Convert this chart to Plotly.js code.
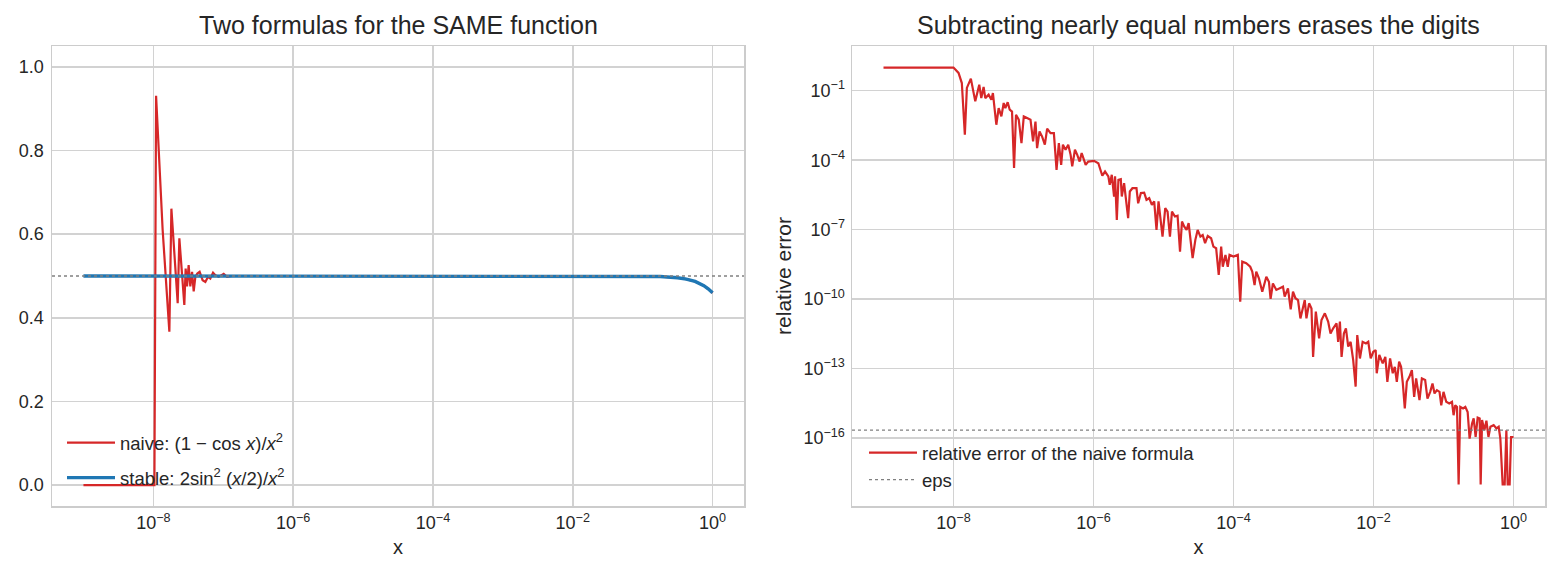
<!DOCTYPE html>
<html>
<head>
<meta charset="utf-8">
<script src="https://cdn.plot.ly/plotly-3.0.1.min.js"></script>
<style>
  html, body { margin: 0; padding: 0; background: #ffffff; }
  #chart { width: 1560px; height: 578px; }
</style>
</head>
<body>
<div id="chart"></div>
<script>
// ---- left panel: the two formulas, x given as powers of ten ----
const naiveExp = [-9, -7.985, -7.961, -7.867, -7.771, -7.742, -7.652, -7.628, -7.557, -7.538,
  -7.518, -7.495, -7.471, -7.446, -7.423, -7.399, -7.371, -7.338, -7.295, -7.256,
  -7.217, -7.185, -7.146, -7.113, -7.066, -6.994, -6.946, -6.874, -6, -5,
  -4, -3, -2, -1.5, -1, -0.75, -0.5, -0.375, -0.25, -0.125, -0.0625, 0];
const naiveVal = [0, 0, 0.931, 0.61, 0.367, 0.661, 0.435, 0.590, 0.431, 0.518,
  0.475, 0.526, 0.475, 0.510, 0.463, 0.498, 0.506, 0.510, 0.490, 0.486,
  0.498, 0.494, 0.508, 0.502, 0.498, 0.505, 0.498, 0.500, 0.5, 0.5,
  0.5, 0.5, 0.5, 0.49996, 0.49958, 0.49868, 0.49585, 0.49263, 0.48697, 0.4770, 0.4695, 0.4597];

const stableExp = [-9, -8, -7, -6, -5, -4, -3, -2, -1.5, -1, -0.75, -0.5, -0.375, -0.25, -0.125, -0.0625, 0];
const stableVal = [0.5, 0.5, 0.5, 0.5, 0.5, 0.5, 0.5, 0.5, 0.49996, 0.49958, 0.49868, 0.49585, 0.49263, 0.48697, 0.4770, 0.4695, 0.4597];

const limitValue = 0.5;

// ---- right panel: relative error of the naive formula (powers of ten) ----
const errExp = [-9, -8.0, -7.928, -7.881, -7.838, -7.809, -7.752, -7.689, -7.632, -7.603,
  -7.570, -7.546, -7.498, -7.459, -7.437, -7.388, -7.355, -7.316, -7.283, -7.259,
  -7.226, -7.197, -7.164, -7.135, -7.107, -7.068, -7.029, -6.996, -6.949, -6.900,
  -6.863, -6.829, -6.806, -6.771, -6.734, -6.695, -6.662, -6.614, -6.566, -6.528,
  -6.495, -6.462, -6.437, -6.399, -6.361, -6.327, -6.304, -6.265, -6.232, -6.198,
  -6.169, -6.136, -6.112, -6.075, -5.993, -5.931, -5.874, -5.835, -5.788, -5.768,
  -5.739, -5.706, -5.692, -5.667, -5.644, -5.610, -5.596, -5.563, -5.530, -5.505,
  -5.481, -5.444, -5.386, -5.362, -5.323, -5.276, -5.243, -5.204, -5.166, -5.133,
  -5.100, -5.071, -5.047, -5.014, -4.975, -4.942, -4.908, -4.879, -4.836, -4.799,
  -4.764, -4.736, -4.703, -4.670, -4.641, -4.584, -4.545, -4.512, -4.473, -4.440,
  -4.406, -4.368, -4.320, -4.287, -4.248, -4.211, -4.176, -4.153, -4.115, -4.082,
  -4.057, -4.000, -3.938, -3.904, -3.875, -3.818, -3.761, -3.732, -3.699, -3.675,
  -3.637, -3.589, -3.531, -3.494, -3.470, -3.437, -3.388, -3.341, -3.293, -3.269,
  -3.222, -3.183, -3.150, -3.115, -3.078, -3.044, -3.015, -2.982, -2.958, -2.920,
  -2.886, -2.863, -2.824, -2.777, -2.743, -2.695, -2.648, -2.614, -2.576, -2.528,
  -2.505, -2.480, -2.456, -2.423, -2.394, -2.361, -2.327, -2.290, -2.255, -2.232,
  -2.194, -2.155, -2.108, -2.075, -2.040, -2.003, -1.969, -1.954, -1.917, -1.868,
  -1.831, -1.802, -1.763, -1.725, -1.696, -1.667, -1.634, -1.606, -1.581, -1.553,
  -1.524, -1.487, -1.452, -1.419, -1.391, -1.343, -1.309, -1.262, -1.229, -1.190,
  -1.157, -1.128, -1.094, -1.057, -1.032, -1.000, -0.961, -0.918, -0.879, -0.856,
  -0.832, -0.807, -0.784, -0.760, -0.721, -0.688, -0.655, -0.627, -0.592, -0.569,
  -0.541, -0.512, -0.483, -0.469, -0.449, -0.416, -0.387, -0.358, -0.330, -0.283,
  -0.244, -0.212, -0.188, -0.155, -0.126, -0.102, -0.083, -0.055, -0.035, 0.0];
const errLog = [0.0, 0.0, -0.23, -0.67, -2.90, -0.88, -0.48, -1.46, -0.74, -1.32,
  -0.84, -1.32, -1.17, -1.39, -1.10, -2.47, -1.75, -2.11, -1.53, -1.75,
  -1.50, -1.82, -1.90, -4.34, -2.04, -2.25, -3.26, -2.11, -2.18, -2.25,
  -3.19, -2.33, -3.48, -2.76, -2.98, -3.33, -2.64, -2.83, -2.83, -4.42,
  -3.26, -4.20, -3.33, -3.55, -3.33, -3.77, -4.27, -3.55, -3.77, -4.06,
  -3.69, -3.98, -4.20, -4.06, -4.03, -4.13, -4.67, -4.49, -4.70, -5.06,
  -4.63, -5.57, -4.70, -6.58, -4.85, -4.82, -5.57, -4.99, -5.78, -6.50,
  -5.35, -5.21, -5.21, -5.86, -5.42, -5.40, -5.71, -5.64, -5.93, -5.78,
  -7.01, -5.78, -6.43, -7.30, -6.07, -6.22, -7.30, -6.22, -6.43, -6.40,
  -7.95, -6.65, -6.87, -7.01, -6.72, -8.23, -7.44, -7.01, -7.30, -7.23,
  -7.58, -7.27, -7.37, -7.73, -7.80, -8.95, -7.73, -8.60, -8.09, -8.60,
  -8.09, -8.16, -8.09, -10.11, -8.38, -8.45, -8.60, -8.81, -9.39, -8.81,
  -9.10, -9.68, -9.03, -9.25, -9.99, -9.32, -9.60, -9.53, -9.46, -9.89,
  -9.53, -10.44, -9.68, -9.96, -10.04, -10.83, -10.40, -10.04, -10.83, -10.18,
  -10.40, -12.49, -10.54, -11.69, -10.90, -10.61, -10.97, -11.48, -11.26, -11.04,
  -11.84, -10.97, -12.49, -11.48, -11.26, -12.05, -11.84, -12.63, -13.78, -11.55,
  -12.56, -11.84, -11.91, -11.84, -12.56, -12.27, -12.20, -13.20, -12.41, -12.77,
  -12.49, -13.57, -12.56, -13.20, -12.92, -13.57, -12.70, -12.92, -13.64, -14.72,
  -13.57, -13.35, -13.06, -14.22, -13.42, -14.36, -13.42, -13.49, -14.29, -14.00,
  -13.64, -14.07, -13.93, -14.00, -14.58, -14.00, -14.43, -14.50, -14.43, -15.01,
  -14.58, -14.65, -18.00, -14.65, -14.72, -14.65, -14.87, -16.02, -15.37, -15.15,
  -15.95, -15.11, -15.15, -18.00, -15.22, -15.66, -15.25, -15.95, -15.51, -15.44,
  -15.58, -15.51, -16.02, -18.00, -18.00, -15.66, -18.00, -18.00, -15.95, -15.95];

const machineEps = 2.220446049250313e-16;

// axis extents and tick positions, in powers of ten
const xRangeExp = [-9.45, 0.45];
const errRangeExp = [-18.93, 0.93];
const xTickExp = [-8, -6, -4, -2, 0];
const errTickExp = [-16, -13, -10, -7, -4, -1];

const pow10 = e => Math.pow(10, e);
const powLabel = e => '10<sup>' + (e < 0 ? '\u2212' + (-e) : String(e)) + '</sup>';

const RED = '#d62728';
const BLUE = '#1f77b4';
const GREY = '#808080';
const INK = '#262626';
const FRAME = '#cccccc';
const GRID = '#d2d2d2';
const FONT = 'Liberation Sans, Arial, sans-serif';

const traces = [
  {
    x: naiveExp.map(pow10), y: naiveVal,
    type: 'scatter', mode: 'lines',
    line: {color: RED, width: 2.2},
    name: 'naive: (1 − cos <i>x</i>)/<i>x</i><sup>2</sup>',
    legendgroup: 'naive',
    xaxis: 'x', yaxis: 'y', legend: 'legend'
  },
  {
    x: stableExp.map(pow10), y: stableVal,
    type: 'scatter', mode: 'lines',
    line: {color: BLUE, width: 3.4},
    name: 'stable: 2sin<sup>2</sup> (<i>x</i>/2)/<i>x</i><sup>2</sup>',
    legendgroup: 'stable',
    xaxis: 'x', yaxis: 'y', legend: 'legend'
  },
  {
    x: xRangeExp.map(pow10), y: [limitValue, limitValue],
    type: 'scatter', mode: 'lines',
    line: {color: GREY, width: 1.3, dash: 'dot'},
    showlegend: false, hoverinfo: 'skip',
    xaxis: 'x', yaxis: 'y'
  },
  {
    x: errExp.map(pow10), y: errLog.map(pow10),
    type: 'scatter', mode: 'lines',
    line: {color: RED, width: 2.2},
    name: 'relative error of the naive formula',
    xaxis: 'x2', yaxis: 'y2', legend: 'legend2'
  },
  {
    x: xRangeExp.map(pow10), y: [machineEps, machineEps],
    type: 'scatter', mode: 'lines',
    line: {color: GREY, width: 1.3, dash: 'dot'},
    name: 'eps',
    xaxis: 'x2', yaxis: 'y2', legend: 'legend2'
  }
];

const W = 1560, H = 578;
const px = v => v / W;
const py = v => 1 - v / H;

const axisCommon = {
  showline: true, mirror: true, linecolor: FRAME, linewidth: 1.5,
  showgrid: true, gridcolor: GRID, gridwidth: 1.5,
  zeroline: false, ticks: '',
  tickfont: {family: FONT, size: 18, color: INK}
};

const logX = {
  ...axisCommon,
  type: 'log', range: xRangeExp,
  tickmode: 'array',
  tickvals: xTickExp.map(pow10),
  ticktext: xTickExp.map(powLabel),
  title: {text: 'x', font: {family: FONT, size: 20, color: INK}, standoff: 8}
};

const legendCommon = {
  xanchor: 'left', yanchor: 'bottom',
  bgcolor: 'rgba(0,0,0,0)', borderwidth: 0,
  font: {family: FONT, size: 18.5, color: INK},
  itemwidth: 48
};

const layout = {
  width: W, height: H,
  margin: {l: 0, r: 0, t: 0, b: 0},
  paper_bgcolor: '#ffffff', plot_bgcolor: '#ffffff',
  font: {family: FONT, color: INK},
  xaxis: {...logX, domain: [px(52), px(744)], anchor: 'y'},
  yaxis: {
    ...axisCommon, domain: [py(506), py(46)], anchor: 'x',
    range: [-0.05, 1.05], tick0: 0, dtick: 0.2, tickformat: '.1f',
    ticklabelstandoff: 3
  },
  xaxis2: {...logX, domain: [px(852), px(1545)], anchor: 'y2'},
  yaxis2: {
    ...axisCommon, domain: [py(506), py(46)], anchor: 'x2',
    type: 'log', range: errRangeExp,
    tickmode: 'array',
    tickvals: errTickExp.map(pow10),
    ticktext: errTickExp.map(powLabel),
    ticklabelstandoff: 2,
    title: {text: 'relative error', font: {family: FONT, size: 21, color: INK}, standoff: 6}
  },
  legend: {...legendCommon, x: px(62), y: py(497), tracegroupgap: 8},
  legend2: {...legendCommon, x: px(864), y: py(499), tracegroupgap: 0},
  annotations: [
    {
      text: 'Two formulas for the SAME function',
      xref: 'paper', yref: 'paper', x: px(398), y: py(25),
      xanchor: 'center', yanchor: 'middle', showarrow: false,
      font: {family: FONT, size: 25, color: INK}
    },
    {
      text: 'Subtracting nearly equal numbers erases the digits',
      xref: 'paper', yref: 'paper', x: px(1198.5), y: py(25),
      xanchor: 'center', yanchor: 'middle', showarrow: false,
      font: {family: FONT, size: 25, color: INK}
    }
  ],
  showlegend: true
};

Plotly.newPlot('chart', traces, layout, {staticPlot: true, displayModeBar: false});
</script>
</body>
</html>
